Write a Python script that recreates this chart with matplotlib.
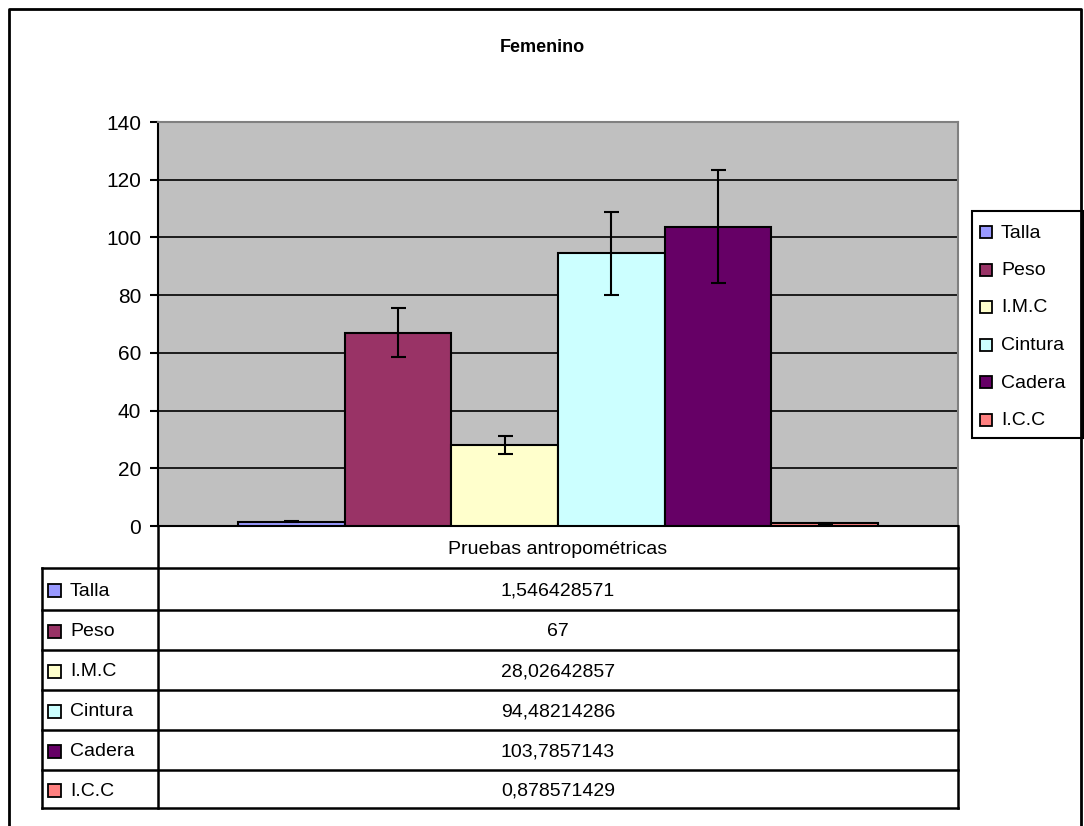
import matplotlib.pyplot as plt
import numpy as np

plt.rcParams['font.family'] = ['Liberation Sans', 'DejaVu Sans']

# Datos
series = ["Talla", "Peso", "I.M.C", "Cintura", "Cadera", "I.C.C"]
valores = [1.546428571, 67, 28.02642857, 94.48214286, 103.7857143, 0.878571429]
etiquetas = ["1,546428571", "67", "28,02642857", "94,48214286", "103,7857143", "0,878571429"]
errores = [0.07, 8.6, 3.1, 14.5, 19.7, 0.05]
colores = ["#9999FF", "#993366", "#FFFFCC", "#CCFFFF", "#660066", "#FF8080"]
categoria = "Pruebas antropométricas"

W, H = 1084, 826
fig = plt.figure(figsize=(W / 100, H / 100), dpi=100)

# plot area in pixels
px_l, px_r, px_t, px_b = 158, 958, 122, 526
ax = fig.add_axes([px_l / W, 1 - px_b / H, (px_r - px_l) / W, (px_b - px_t) / H])
ax.set_facecolor("#C0C0C0")

n = len(series)
w = 1 / (n + 1.5)
for i in range(n):
    xc = (i - (n - 1) / 2) * w
    ax.bar(xc, valores[i], width=w, color=colores[i], edgecolor="black",
           linewidth=1.5, zorder=3)
    ax.errorbar(xc, valores[i], yerr=errores[i], color="black", capsize=5.4,
                elinewidth=1.5, capthick=1.5, zorder=4)

ax.set_xlim(-0.5, 0.5)
ax.set_ylim(0, 140)
ax.set_yticks(np.arange(0, 141, 20))
ax.set_xticks([])
ax.yaxis.grid(True, color="black", linewidth=1.2, zorder=1)
ax.set_axisbelow(True)
ax.tick_params(axis="y", length=6, width=1.5, labelsize=15, pad=6)
ax.spines["left"].set_linewidth(1.5)
ax.spines["bottom"].set_linewidth(1.5)
ax.spines["top"].set_color("#808080")
ax.spines["right"].set_color("#808080")
ax.spines["top"].set_linewidth(1.5)
ax.spines["right"].set_linewidth(1.5)

# overlay in pixel coordinates for frame, title, table, legend
ov2 = fig.add_axes([0, 0, 1, 1])
ov2.set_xlim(0, W)
ov2.set_ylim(H, 0)
ov2.axis("off")
ov2.patch.set_alpha(0)

# outer frame
ov2.plot([9, 9, 1081, 1081], [830, 8.5, 8.5, 830], color="black", lw=2)

# title
ov2.text(542, 47, "Femenino", ha="center", va="center", fontsize=13,
         fontweight="bold")

# table
tl, tr = 42, px_r
rows = [568, 610, 650, 690, 730, 770, 808]
ov2.plot([px_l, px_l], [px_b, rows[-1]], color="black", lw=1.8)
ov2.plot([px_r, px_r], [px_b, rows[-1]], color="black", lw=1.8)
ov2.plot([tl, tl], [rows[0], rows[-1]], color="black", lw=1.8)
for y in rows:
    ov2.plot([tl, tr], [y, y], color="black", lw=1.8)
ov2.text((px_l + px_r) / 2, (px_b + rows[0]) / 2 + 2, categoria, ha="center",
         va="center", fontsize=14)
for i in range(n):
    yc = (rows[i] + rows[i + 1]) / 2 + 2
    ov2.add_patch(plt.Rectangle((48, yc - 7), 13, 13, facecolor=colores[i],
                                edgecolor="black", lw=1.3))
    ov2.text(70, yc, series[i], ha="left", va="center", fontsize=14)
    ov2.text((px_l + px_r) / 2, yc, etiquetas[i], ha="center", va="center",
             fontsize=14)

# legend
ov2.add_patch(plt.Rectangle((972, 211), 111, 227, facecolor="white",
                            edgecolor="black", lw=1.5))
for i in range(n):
    yc = 232 + i * 37.5
    ov2.add_patch(plt.Rectangle((980, yc - 6), 12, 12, facecolor=colores[i],
                                edgecolor="black", lw=1.3))
    ov2.text(1001, yc + 1, series[i], ha="left", va="center", fontsize=14)

fig.savefig("out.png", dpi=100)
